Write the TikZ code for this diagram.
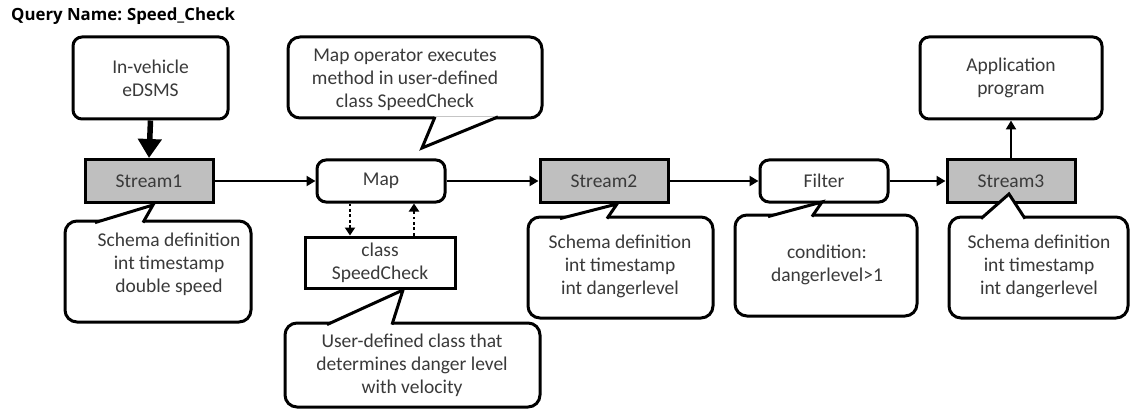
\documentclass[tikz,border=0pt]{standalone}
\usepackage{fontspec}
\setmainfont{Carlito}
\newfontfamily\titlefont{Open Sans}
\usetikzlibrary{arrows.meta}
\definecolor{txt}{HTML}{3A3A3A}
\definecolor{streamfill}{HTML}{BFBFBF}
\tikzset{
  lbl/.style={text=txt, font=\fontsize{19.5}{23}\selectfont, align=center, inner sep=0pt},
  shapebase/.style={draw=black, line width=3pt, inner sep=0pt},
  rbox/.style={shapebase, lbl, rounded corners=9pt, fill=white},
  sbox/.style={shapebase, lbl, fill=streamfill},
  callout/.style={shapebase, rounded corners=12pt, fill=white},
  wedgeline/.style={draw=black, line width=3pt, line join=miter, line cap=butt},
  flow/.style={draw=black, line width=2.3pt, -{Triangle[length=9pt,width=10pt]}},
  bigflow/.style={draw=black, line width=5.5pt, -{Triangle[length=19pt,width=23pt]}},
  dotflow/.style={draw=black, line width=2.8pt, dash pattern=on 2.8pt off 2.6pt, -{Triangle[length=8pt,width=10pt]}},
}
\begin{document}
\begin{tikzpicture}[x=1pt,y=-1pt]
\useasboundingbox[fill=white] (0,0) rectangle (1130,409);

% title
\node[anchor=west, inner sep=0pt, font=\titlefont\bfseries\fontsize{16.8}{20}\selectfont] (title) at (11,16) {Query Name:\hspace{5pt}Speed\_Check};

% main boxes
\node[rbox, minimum width=155pt, minimum height=82pt] (src) at (150.5,78) {In-vehicle\\eDSMS};
\node[rbox, minimum width=182pt, minimum height=82pt] (app) at (1011,78) {Application\\program};
\node[sbox, minimum width=128pt, minimum height=43pt] (s1) at (149,181) {Stream1};
\node[rbox, minimum width=128pt, minimum height=42pt] (map) at (381,181) {Map};
\node[sbox, minimum width=128pt, minimum height=43pt] (s2) at (604,181) {Stream2};
\node[rbox, minimum width=128pt, minimum height=42pt] (filter) at (824,181) {Filter};
\node[sbox, minimum width=128pt, minimum height=43pt] (s3) at (1011,181) {Stream3};
\node[shapebase, lbl, fill=white, minimum width=150pt, minimum height=51pt] (cls) at (380,262.5) {class\\SpeedCheck};

% connectors
\draw[bigflow] (src.south) -- (s1.north);
\draw[flow] (s1.east) -- (map.west);
\draw[flow] (map.east) -- (s2.west);
\draw[flow] (s2.east) -- (filter.west);
\draw[flow] (filter.east) -- (s3.west);
\draw[flow, line width=2.6pt] (s3.north) -- (app.south);
\draw[dotflow] ([xshift=-31pt]map.south) -- ([xshift=-30pt]cls.north);
\draw[dotflow] ([xshift=34pt]cls.north) -- ([xshift=33pt]map.south);

% callout: Map (wedge on bottom edge)
\node[callout, minimum width=254pt, minimum height=81pt] (cmap) at (415,77.5) {};
\fill[white] (434,116.5) -- (422,148) -- (498,116.5) -- cycle;
\draw[wedgeline] (435,116.9) -- (422,148) -- (498,116.9);
\node[lbl] (cmapt) at (405,79.5) {Map operator executes\\method in user-defined\\class SpeedCheck};

% callout: Stream1 schema
\node[callout, minimum width=186pt, minimum height=101pt] (c1) at (158,271.5) {};
\fill[white] (95,223) -- (153,205) -- (143,223) -- cycle;
\draw[wedgeline] (95,222.6) -- (153,205) -- (143,222.6);
\node[lbl] (c1t) at (169,264.5) {Schema definition\\int timestamp\\double speed};

% callout: class SpeedCheck
\node[callout, minimum width=255pt, minimum height=84pt] (ccls) at (412.5,365) {};
\fill[white] (327,325) -- (403,290) -- (392,325) -- cycle;
\draw[wedgeline] (327,324.6) -- (403,290) -- (392,324.6);
\node[lbl] (cclst) at (412,365.5) {User-defined class that\\determines danger level\\with velocity};

% callout: Stream2 schema
\node[callout, minimum width=185pt, minimum height=101pt] (c2) at (620.5,267.5) {};
\fill[white] (560,219) -- (617,204) -- (607,219) -- cycle;
\draw[wedgeline] (560,218.6) -- (617,204) -- (607,218.6);
\node[lbl] (c2t) at (620,266) {Schema definition\\int timestamp\\int dangerlevel};

% callout: Filter condition
\node[callout, minimum width=182pt, minimum height=101pt] (cf) at (826,265.5) {};
\fill[white] (768,217) -- (822,202) -- (812,217) -- cycle;
\draw[wedgeline] (768,216.6) -- (822,202) -- (812,216.6);
\node[lbl] (cft) at (827,265) {condition:\\dangerlevel>1};

% callout: Stream3 schema
\node[callout, minimum width=179pt, minimum height=101pt] (c3) at (1038.5,267.5) {};
\fill[white] (981,219) -- (1009,194) -- (1025,219) -- cycle;
\draw[wedgeline] (981,218.6) -- (1009,194) -- (1025,218.6);
\node[lbl] (c3t) at (1039,266) {Schema definition\\int timestamp\\int dangerlevel};
\end{tikzpicture}
\end{document}
